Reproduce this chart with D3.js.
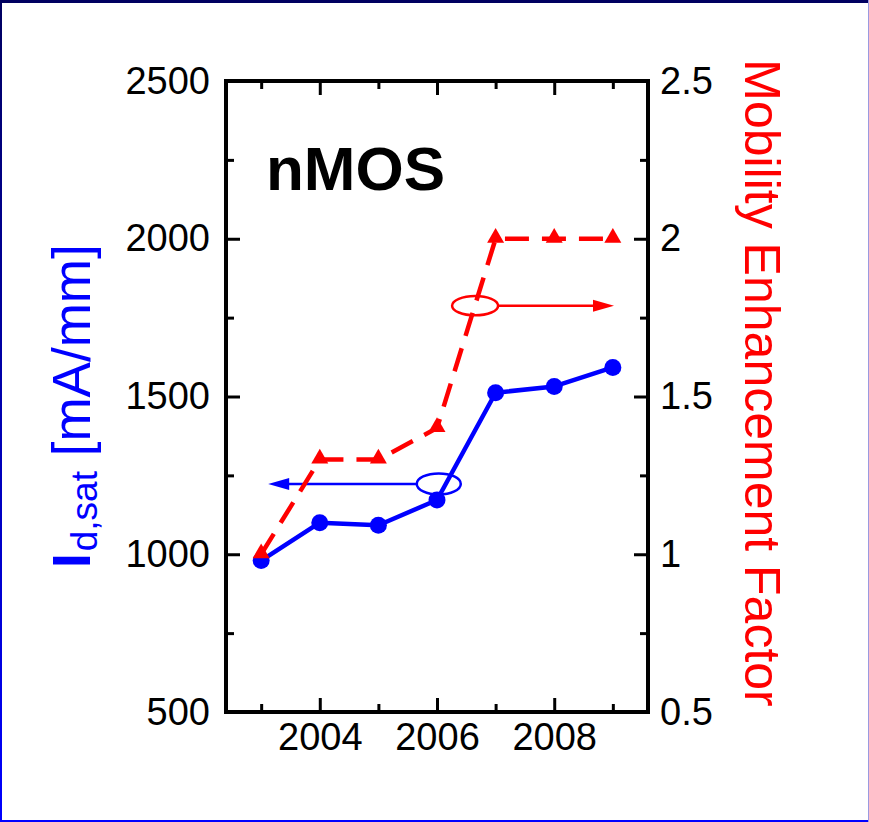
<!DOCTYPE html>
<html><head><meta charset="utf-8">
<script src="https://cdn.jsdelivr.net/npm/d3@7"></script>
<style>html,body{margin:0;padding:0;background:#fff;}svg{display:block;}</style>
</head><body>
<script>
// ---- data ----
const years = [2003, 2004, 2005, 2006, 2007, 2008, 2009];
const idsat = [980, 1100, 1092, 1172, 1512, 1532, 1592];        // mA/mm (left axis)
const mobility = [1.0, 1.3, 1.3, 1.4, 2.0, 2.0, 2.0];           // enhancement factor (right axis)
const xMajorTicks = [2004, 2006, 2008];
const xMinorTicks = [2003, 2005, 2007, 2009];
const yLeftMajor = [500, 1000, 1500, 2000, 2500];
const yLeftMinor = [750, 1250, 1750, 2250];
const yRightMajor = [0.5, 1, 1.5, 2, 2.5];
const yRightMinor = [0.75, 1.25, 1.75, 2.25];
// annotation anchors (data coordinates)
const blueMarker = {year: 2006.03, value: 1223, tipYear: 2003.12};
const redMarker = {year: 2006.65, value: 1.788, tipYear: 2009.02};

const W = 869, H = 822;
const FONT = "'Liberation Sans', Arial, Helvetica, sans-serif";
const BLUE = "#0000ff", RED = "#ff0000";

const svg = d3.select("body").append("svg").attr("width", W).attr("height", H);

// frame border
const defs = svg.append("defs");
const lg = defs.append("linearGradient").attr("id", "lb").attr("x1", 0).attr("y1", 0).attr("x2", 0).attr("y2", 1);
lg.append("stop").attr("offset", "0%").attr("stop-color", "#000060");
lg.append("stop").attr("offset", "100%").attr("stop-color", "#0000ff");
svg.append("rect").attr("x", 0).attr("y", 0).attr("width", W).attr("height", H).attr("fill", "#fff");
svg.append("rect").attr("x", 0).attr("y", 0).attr("width", 2).attr("height", H).attr("fill", "url(#lb)");
svg.append("rect").attr("x", 0).attr("y", 0).attr("width", W).attr("height", 3).attr("fill", "#000060");
svg.append("rect").attr("x", 0).attr("y", H - 2).attr("width", W).attr("height", 2).attr("fill", "#0000ff");
svg.append("rect").attr("x", W - 1).attr("y", 0).attr("width", 1).attr("height", H).attr("fill", "#9a9ae0");

const L = 226, R = 648, T = 81, B = 712;
const x = d3.scaleLinear().domain([2002.4, 2009.6]).range([L, R]);
const yL = d3.scaleLinear().domain([500, 2500]).range([B, T]);
const yR = d3.scaleLinear().domain([0.5, 2.5]).range([B, T]);

function styleAxis(g) {
  g.select(".domain").remove();
  g.selectAll(".tick line").attr("stroke", "#000").attr("stroke-width", 3);
  g.selectAll(".tick text").attr("font-family", FONT).attr("font-size", 38).attr("fill", "#000");
}

// bottom
svg.append("g").attr("transform", `translate(0,${B})`)
  .call(d3.axisBottom(x).tickValues(xMajorTicks).tickSize(-14).tickSizeOuter(0).tickPadding(11).tickFormat(d3.format("d")))
  .call(styleAxis);
svg.append("g").attr("transform", `translate(0,${B})`)
  .call(d3.axisBottom(x).tickValues(xMinorTicks).tickSize(-8).tickSizeOuter(0).tickFormat(""))
  .call(styleAxis);
// top
svg.append("g").attr("transform", `translate(0,${T})`)
  .call(d3.axisTop(x).tickValues(xMajorTicks).tickSize(-14).tickSizeOuter(0).tickFormat(""))
  .call(styleAxis);
svg.append("g").attr("transform", `translate(0,${T})`)
  .call(d3.axisTop(x).tickValues(xMinorTicks).tickSize(-8).tickSizeOuter(0).tickFormat(""))
  .call(styleAxis);
// left
svg.append("g").attr("transform", `translate(${L},0)`)
  .call(d3.axisLeft(yL).tickValues(yLeftMajor).tickSize(-14).tickSizeOuter(0).tickPadding(16).tickFormat(d3.format("d")))
  .call(styleAxis);
svg.append("g").attr("transform", `translate(${L},0)`)
  .call(d3.axisLeft(yL).tickValues(yLeftMinor).tickSize(-8).tickSizeOuter(0).tickFormat(""))
  .call(styleAxis);
// right
svg.append("g").attr("transform", `translate(${R},0)`)
  .call(d3.axisRight(yR).tickValues(yRightMajor).tickSize(-14).tickSizeOuter(0).tickPadding(12).tickFormat(d => String(d)))
  .call(styleAxis);
svg.append("g").attr("transform", `translate(${R},0)`)
  .call(d3.axisRight(yR).tickValues(yRightMinor).tickSize(-8).tickSizeOuter(0).tickFormat(""))
  .call(styleAxis);

// plot frame
svg.append("rect").attr("x", L).attr("y", T).attr("width", R - L).attr("height", B - T)
  .attr("fill", "none").attr("stroke", "#000").attr("stroke-width", 4);

// blue series
const blueData = years.map((yr, i) => ({yr, v: idsat[i]}));
svg.append("path").datum(blueData)
  .attr("d", d3.line().x(d => x(d.yr)).y(d => yL(d.v)))
  .attr("fill", "none").attr("stroke", BLUE).attr("stroke-width", 4.5).attr("stroke-linejoin", "round");
svg.selectAll("circle.b").data(blueData).enter().append("circle")
  .attr("cx", d => x(d.yr)).attr("cy", d => yL(d.v)).attr("r", 8.5).attr("fill", BLUE);

// blue annotation
const bx = x(blueMarker.year), by = yL(blueMarker.value), brx = 22, bry = 10.5;
svg.append("ellipse").attr("cx", bx).attr("cy", by).attr("rx", brx).attr("ry", bry)
  .attr("fill", "none").attr("stroke", BLUE).attr("stroke-width", 2.5);
const btip = x(blueMarker.tipYear);
svg.append("line").attr("x1", bx - brx).attr("y1", by).attr("x2", btip + 18).attr("y2", by)
  .attr("stroke", BLUE).attr("stroke-width", 2.5);
svg.append("path").attr("d", `M${btip},${by} L${btip + 21},${by - 6} L${btip + 21},${by + 6} Z`).attr("fill", BLUE);

// red series
const redData = years.map((yr, i) => ({yr, v: mobility[i]}));
svg.append("path").datum(redData)
  .attr("d", d3.line().x(d => x(d.yr)).y(d => yR(d.v)))
  .attr("fill", "none").attr("stroke", RED).attr("stroke-width", 4.5).attr("stroke-dasharray", "24,13");
svg.selectAll("path.tri").data(redData).enter().append("path")
  .attr("transform", d => `translate(${x(d.yr)},${yR(d.v) - 1})`)
  .attr("d", d3.symbol().type(d3.symbolTriangle).size(125)).attr("fill", RED);

// red annotation
const rx0 = x(redMarker.year), ry0 = yR(redMarker.value), rrx = 23, rry = 9.7;
svg.append("ellipse").attr("cx", rx0).attr("cy", ry0).attr("rx", rrx).attr("ry", rry)
  .attr("fill", "none").attr("stroke", RED).attr("stroke-width", 2.5);
const rtip = x(redMarker.tipYear);
svg.append("line").attr("x1", rx0 + rrx).attr("y1", ry0).attr("x2", rtip - 18).attr("y2", ry0)
  .attr("stroke", RED).attr("stroke-width", 2.5);
svg.append("path").attr("d", `M${rtip},${ry0} L${rtip - 21},${ry0 - 6} L${rtip - 21},${ry0 + 6} Z`).attr("fill", RED);

// nMOS label
svg.append("text").attr("x", 266).attr("y", 190).text("nMOS")
  .attr("font-family", FONT).attr("font-size", 62).attr("font-weight", "bold").attr("fill", "#000");

// left axis label
const ll = svg.append("text").attr("transform", "translate(90,568) rotate(-90)")
  .attr("font-family", FONT).attr("fill", BLUE).attr("text-anchor", "start");
ll.append("tspan").attr("font-size", 53).attr("font-weight", "bold").text("I");
ll.append("tspan").attr("font-size", 37).attr("dy", 7).attr("dx", 2).text("d,sat");
ll.append("tspan").attr("font-size", 53).attr("dy", -7).text(" [mA/mm]");

// right axis label
svg.append("text").attr("transform", "translate(745,383) rotate(90)")
  .attr("font-family", FONT).attr("font-size", 50).attr("fill", RED).attr("text-anchor", "middle")
  .text("Mobility Enhancement Factor");
</script>
</body></html>
